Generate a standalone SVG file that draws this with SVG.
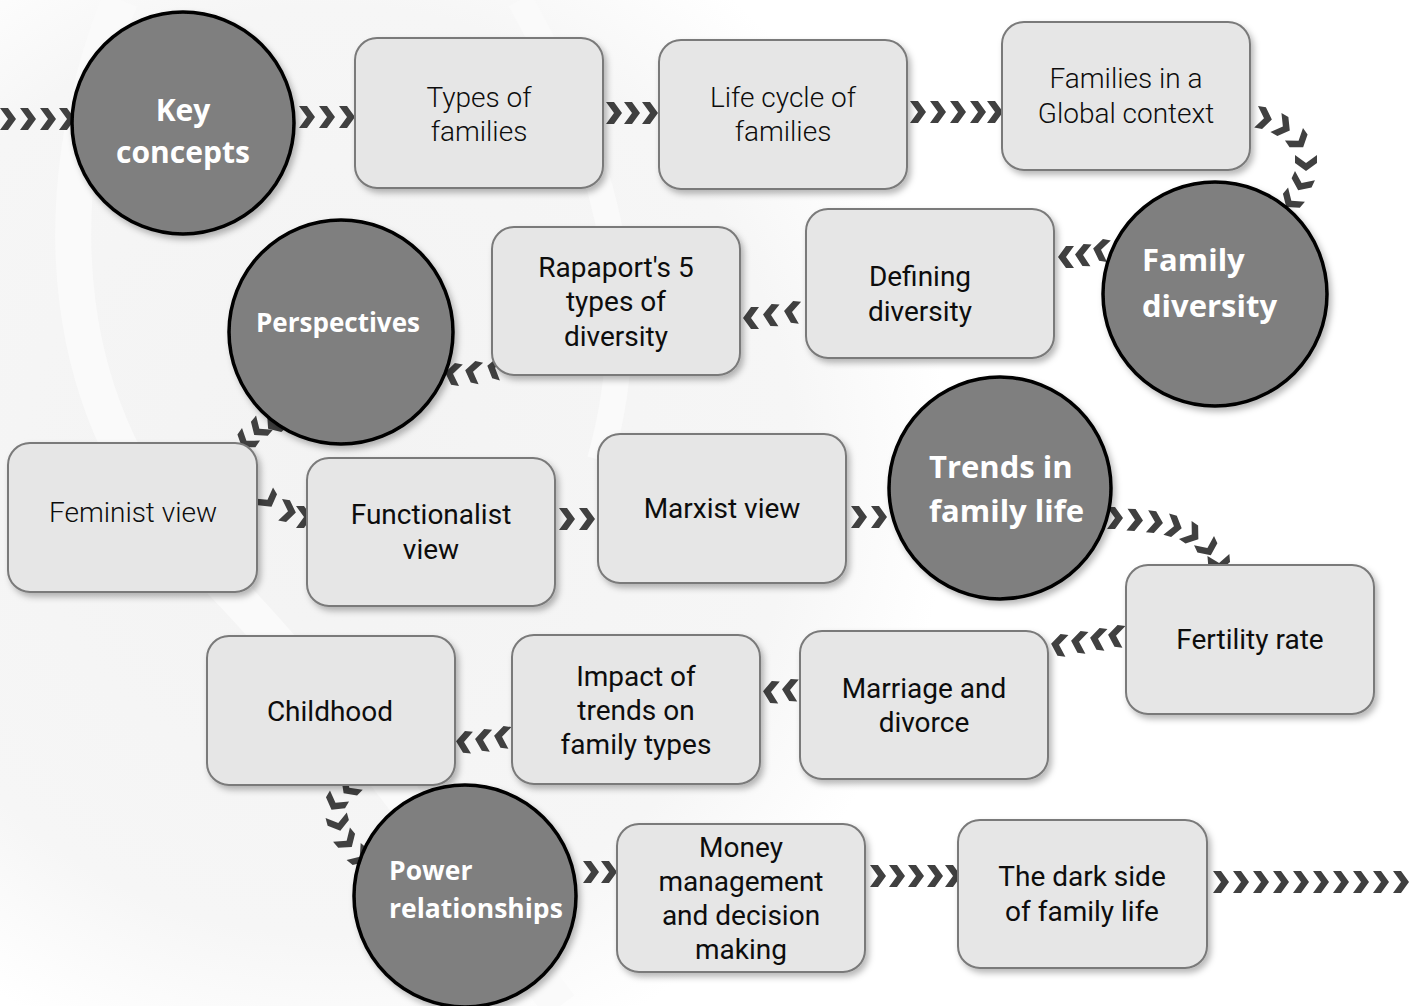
<svg xmlns="http://www.w3.org/2000/svg" xmlns:xlink="http://www.w3.org/1999/xlink" width="1414" height="1006" viewBox="0 0 1414 1006">
<defs>
<style>
.box{fill:#e6e6e6;stroke:#7a7a7a;stroke-width:2;filter:url(#sh)}
.circ{fill:#7f7f7f;stroke:#000;stroke-width:3.5;filter:url(#sh)}
.bt{font-family:Roboto,"Open Sans",sans-serif;font-size:28px;fill:#0d0d0d;text-anchor:middle}
.lt{font-weight:300}
.ct{font-family:"Open Sans","Noto Sans",sans-serif;font-weight:700;fill:#fff}
.chev{fill:#404040}
</style>
<filter id="sh" x="-20%" y="-20%" width="140%" height="140%">
<feDropShadow dx="3" dy="4" stdDeviation="3" flood-color="#000" flood-opacity="0.28"/>
</filter>
<radialGradient id="bgg" cx="330" cy="470" r="620" gradientUnits="userSpaceOnUse">
<stop offset="0" stop-color="#f3f3f3"/>
<stop offset="0.75" stop-color="#f6f6f6"/>
<stop offset="1" stop-color="#ffffff"/>
</radialGradient>
<path id="chev" class="chev" d="M-7,-11 L1,-11 L9,0 L1,11 L-7,11 L1,0 Z"/>
</defs>
<rect width="1414" height="1006" fill="#fff"/>
<g id="background" fill="none">
<rect width="1414" height="1006" fill="url(#bgg)"/>
<path d="M120,0 C40,200 60,420 200,560 C320,680 420,820 560,1006" stroke="#fafafa" stroke-width="36"/>
<path d="M520,0 C620,180 640,320 600,460" stroke="#fafafa" stroke-width="26"/>
</g>
<g id="connectors">
<use href="#chev" transform="translate(7,119)"/>
<use href="#chev" transform="translate(27,119)"/>
<use href="#chev" transform="translate(47,119)"/>
<use href="#chev" transform="translate(66,119)"/>
<use href="#chev" transform="translate(306,117)"/>
<use href="#chev" transform="translate(326,117)"/>
<use href="#chev" transform="translate(346,117)"/>
<use href="#chev" transform="translate(613,113)"/>
<use href="#chev" transform="translate(631,113)"/>
<use href="#chev" transform="translate(649,113)"/>
<use href="#chev" transform="translate(917,112)"/>
<use href="#chev" transform="translate(937,112)"/>
<use href="#chev" transform="translate(957,112)"/>
<use href="#chev" transform="translate(977,112)"/>
<use href="#chev" transform="translate(994,112)"/>
<use href="#chev" transform="translate(1263,118) rotate(10)"/>
<use href="#chev" transform="translate(1282,126) rotate(30)"/>
<use href="#chev" transform="translate(1298,140) rotate(55)"/>
<use href="#chev" transform="translate(1306,162) rotate(90)"/>
<use href="#chev" transform="translate(1302,182) rotate(115)"/>
<use href="#chev" transform="translate(1292,200) rotate(130)"/>
<use href="#chev" transform="translate(1067,257) rotate(180)"/>
<use href="#chev" transform="translate(1084,255) rotate(183)"/>
<use href="#chev" transform="translate(1102,250) rotate(190)"/>
<use href="#chev" transform="translate(752,318) rotate(180)"/>
<use href="#chev" transform="translate(772,315) rotate(183)"/>
<use href="#chev" transform="translate(793,312) rotate(186)"/>
<use href="#chev" transform="translate(454,374) rotate(190)"/>
<use href="#chev" transform="translate(474,372) rotate(192)"/>
<use href="#chev" transform="translate(496,368) rotate(195)"/>
<use href="#chev" transform="translate(275,423) rotate(140)"/>
<use href="#chev" transform="translate(260,428) rotate(130)"/>
<use href="#chev" transform="translate(247,440) rotate(125)"/>
<use href="#chev" transform="translate(267,499) rotate(60)"/>
<use href="#chev" transform="translate(287,511) rotate(10)"/>
<use href="#chev" transform="translate(303,517)"/>
<use href="#chev" transform="translate(566,519)"/>
<use href="#chev" transform="translate(586,519)"/>
<use href="#chev" transform="translate(858,517)"/>
<use href="#chev" transform="translate(878,517)"/>
<use href="#chev" transform="translate(1114,518)"/>
<use href="#chev" transform="translate(1134,520) rotate(3)"/>
<use href="#chev" transform="translate(1154,522) rotate(6)"/>
<use href="#chev" transform="translate(1173,526) rotate(15)"/>
<use href="#chev" transform="translate(1191,534) rotate(35)"/>
<use href="#chev" transform="translate(1207,547) rotate(65)"/>
<use href="#chev" transform="translate(1219,562) rotate(85)"/>
<use href="#chev" transform="translate(1060,645) rotate(188)"/>
<use href="#chev" transform="translate(1080,642) rotate(188)"/>
<use href="#chev" transform="translate(1099,639) rotate(188)"/>
<use href="#chev" transform="translate(1117,636) rotate(188)"/>
<use href="#chev" transform="translate(772,692) rotate(184)"/>
<use href="#chev" transform="translate(791,690) rotate(184)"/>
<use href="#chev" transform="translate(465,742) rotate(185)"/>
<use href="#chev" transform="translate(484,740) rotate(186)"/>
<use href="#chev" transform="translate(503,737) rotate(188)"/>
<use href="#chev" transform="translate(350,787) rotate(135)"/>
<use href="#chev" transform="translate(336,802) rotate(120)"/>
<use href="#chev" transform="translate(338,822) rotate(75)"/>
<use href="#chev" transform="translate(346,840) rotate(50)"/>
<use href="#chev" transform="translate(359,856) rotate(40)"/>
<use href="#chev" transform="translate(590,872)"/>
<use href="#chev" transform="translate(608,872)"/>
<use href="#chev" transform="translate(877,876)"/>
<use href="#chev" transform="translate(896,876)"/>
<use href="#chev" transform="translate(915,876)"/>
<use href="#chev" transform="translate(934,876)"/>
<use href="#chev" transform="translate(952,876)"/>
<use href="#chev" transform="translate(1220,882)"/>
<use href="#chev" transform="translate(1240,882)"/>
<use href="#chev" transform="translate(1260,882)"/>
<use href="#chev" transform="translate(1280,882)"/>
<use href="#chev" transform="translate(1300,882)"/>
<use href="#chev" transform="translate(1320,882)"/>
<use href="#chev" transform="translate(1340,882)"/>
<use href="#chev" transform="translate(1360,882)"/>
<use href="#chev" transform="translate(1380,882)"/>
<use href="#chev" transform="translate(1400,882)"/>
</g>
<g id="types-of-families">
<rect class="box" x="355" y="38" width="248" height="150" rx="22"/>
<text class="bt lt"><tspan x="479" y="107">Types of</tspan><tspan x="479" y="141">families</tspan></text>
</g>
<g id="life-cycle">
<rect class="box" x="659" y="40" width="248" height="149" rx="22"/>
<text class="bt lt"><tspan x="783" y="107">Life cycle of</tspan><tspan x="783" y="141">families</tspan></text>
</g>
<g id="families-global">
<rect class="box" x="1002" y="22" width="248" height="148" rx="22"/>
<text class="bt lt"><tspan x="1126" y="88">Families in a</tspan><tspan x="1126" y="123">Global context</tspan></text>
</g>
<g id="defining-diversity">
<rect class="box" x="806" y="209" width="248" height="149" rx="22"/>
<text class="bt"><tspan x="920" y="286">Defining</tspan><tspan x="920" y="321">diversity</tspan></text>
</g>
<g id="rapaport">
<rect class="box" x="492" y="227" width="248" height="148" rx="22"/>
<text class="bt"><tspan x="616" y="277">Rapaport's 5</tspan><tspan x="616" y="311">types of</tspan><tspan x="616" y="346">diversity</tspan></text>
</g>
<g id="feminist-view">
<rect class="box" x="8" y="443" width="249" height="149" rx="22"/>
<text class="bt lt" x="133" y="522">Feminist view</text>
</g>
<g id="functionalist-view">
<rect class="box" x="307" y="458" width="248" height="148" rx="22"/>
<text class="bt"><tspan x="431" y="524">Functionalist</tspan><tspan x="431" y="559">view</tspan></text>
</g>
<g id="marxist-view">
<rect class="box" x="598" y="434" width="248" height="149" rx="22"/>
<text class="bt" x="722" y="518">Marxist view</text>
</g>
<g id="fertility-rate">
<rect class="box" x="1126" y="565" width="248" height="149" rx="22"/>
<text class="bt" x="1250" y="649">Fertility rate</text>
</g>
<g id="marriage-divorce">
<rect class="box" x="800" y="631" width="248" height="148" rx="22"/>
<text class="bt"><tspan x="924" y="698">Marriage and</tspan><tspan x="924" y="732">divorce</tspan></text>
</g>
<g id="impact-of-trends">
<rect class="box" x="512" y="635" width="248" height="149" rx="22"/>
<text class="bt"><tspan x="636" y="686">Impact of</tspan><tspan x="636" y="720">trends on</tspan><tspan x="636" y="754">family types</tspan></text>
</g>
<g id="childhood">
<rect class="box" x="207" y="636" width="248" height="149" rx="22"/>
<text class="bt" x="330" y="721">Childhood</text>
</g>
<g id="money-management">
<rect class="box" x="617" y="824" width="248" height="148" rx="22"/>
<text class="bt"><tspan x="741" y="857">Money</tspan><tspan x="741" y="891">management</tspan><tspan x="741" y="925">and decision</tspan><tspan x="741" y="959">making</tspan></text>
</g>
<g id="dark-side">
<rect class="box" x="958" y="820" width="249" height="148" rx="22"/>
<text class="bt"><tspan x="1082" y="886">The dark side</tspan><tspan x="1082" y="921">of family life</tspan></text>
</g>
<g id="key-concepts">
<circle class="circ" cx="183" cy="123" r="111"/>
<text class="ct" font-size="30" text-anchor="middle"><tspan x="183" y="121">Key</tspan><tspan x="183" y="163">concepts</tspan></text>
</g>
<g id="family-diversity">
<circle class="circ" cx="1215" cy="294" r="112"/>
<text class="ct" font-size="31"><tspan x="1142" y="271">Family</tspan><tspan x="1142" y="317">diversity</tspan></text>
</g>
<g id="perspectives">
<circle class="circ" cx="341" cy="332" r="112"/>
<text class="ct" x="338" y="332" font-size="26" text-anchor="middle">Perspectives</text>
</g>
<g id="trends-family-life">
<circle class="circ" cx="1000" cy="488" r="111"/>
<text class="ct" font-size="31"><tspan x="929" y="478">Trends in</tspan><tspan x="929" y="522">family life</tspan></text>
</g>
<g id="power-relationships">
<circle class="circ" cx="465" cy="896" r="111"/>
<text class="ct" font-size="26.5"><tspan x="389" y="880">Power</tspan><tspan x="389" y="918">relationships</tspan></text>
</g>
</svg>
